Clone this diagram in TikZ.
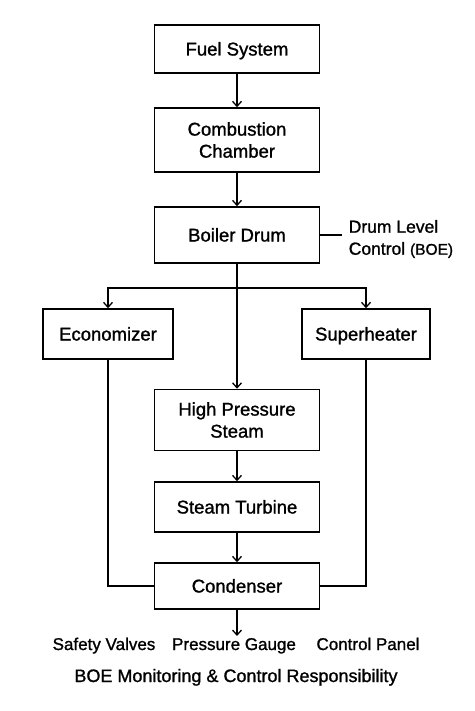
\documentclass[tikz,border=0pt]{standalone}
\usepackage{fontspec}
\setmainfont{Liberation Sans}[FakeBold=1.2]
\usetikzlibrary{arrows.meta}
\usetikzlibrary{positioning}

\begin{document}
\begin{tikzpicture}
[x=1pt,y=-1pt,line width=1.5pt,%
  >={Straight Barb[length=5pt,width=9pt,line width=1.3pt]},%
  box/.style={shape=rectangle,draw,line width=1.5pt,align=center,inner sep=2pt},%
  wide/.style={box,minimum width=165pt},%
  single/.style={text height=13pt,text depth=0pt},%
  note/.style={inner sep=0pt,align=left}]
\fontsize{18.5}{22}\selectfont
\useasboundingbox (0,0) rectangle (474,711);
\node[wide,single,minimum height=48pt] (fuel) at (237,49) {Fuel System};
\node[wide,minimum height=64pt] (comb) at (237,140) {Combustion\\Chamber};
\node[wide,single,minimum height=56pt] (drum) at (237,235) {Boiler Drum};
\node[box,single,minimum width=130pt,minimum height=50pt] (econ) at (108,334) {Economizer};
\node[box,single,minimum width=128pt,minimum height=50pt] (super) at (366,334) {Superheater};
\node[wide,minimum height=61pt] (hps) at (237,420) {High Pressure\\Steam};
\node[wide,single,minimum height=50pt] (turb) at (237,507) {Steam Turbine};
\node[wide,single,minimum height=46pt] (cond) at (237,586) {Condenser};
\node[note,anchor=west,inner xsep=6pt] (level) at (342,239)
  {\fontsize{17.5}{19}\selectfont Drum Level\\
   \fontsize{17.5}{19}\selectfont Control {\fontsize{15.5}{19}\selectfont(BOE)}};
\coordinate (split) at (237,288);
\coordinate (out) at (237,636);
\node[note,anchor=base] (valves) at (104,650) {\fontsize{17}{20}\selectfont Safety Valves};
\node[note,anchor=base] (gauge) at (234,650) {\fontsize{17}{20}\selectfont Pressure Gauge};
\node[note,anchor=base] (panel) at (368,650) {\fontsize{17}{20}\selectfont Control Panel};
\node[note,anchor=base] (title) at (236,682) {\fontsize{18}{22}\selectfont BOE Monitoring \& Control Responsibility};
\draw[->] (fuel) -- (comb);
\draw[->] (comb) -- (drum);
\draw (drum.east) -- (drum.east -| level.west);
\draw[->] (drum) -- (hps);
\draw[->] (split) -| (econ.north);
\draw[->] (split) -| (super.north);
\draw[->] (hps) -- (turb);
\draw[->] (turb) -- (cond);
\draw (econ.south) |- (cond.west);
\draw (super.south) |- (cond.east);
\draw[->] (cond) -- (out);
\end{tikzpicture}
\end{document}
